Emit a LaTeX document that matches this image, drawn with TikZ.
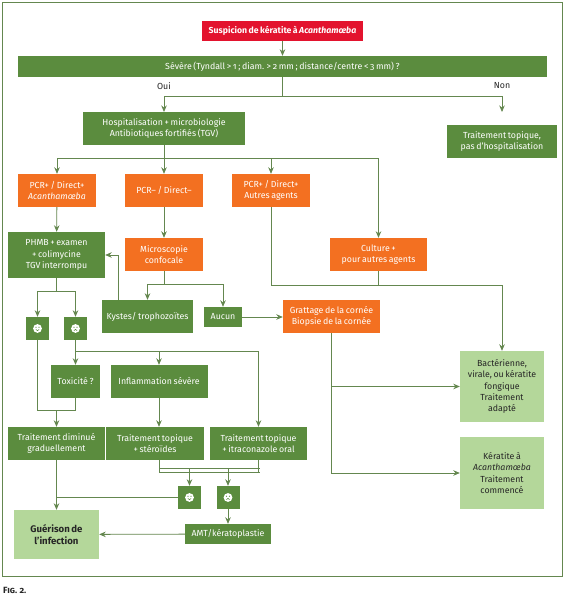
\documentclass[tikz,border=0pt]{standalone}
\usepackage{fontspec}
\setmainfont[Numbers=OldStyle, WordSpace=0.72]{Fira Sans}
\usetikzlibrary{arrows.meta}

\definecolor{darkgreen}{HTML}{5B8C3E}
\definecolor{linegreen}{HTML}{64874F}
\definecolor{softgreen}{HTML}{B4D79A}
\definecolor{carrot}{HTML}{F37021}
\definecolor{alarm}{HTML}{E3132E}

\tikzset{
  box/.style={inner sep=0pt, align=center, text=white,
    font=\fontsize{8.8}{11.2}\selectfont},
  greenbox/.style={box, fill=darkgreen},
  orangebox/.style={box, fill=carrot},
  softbox/.style={box, fill=softgreen, text=black!85},
  facebox/.style={fill=darkgreen, inner sep=0pt, minimum width=23pt, minimum height=23pt},
  size/.style 2 args={minimum width=#1pt, minimum height=#2pt},
  link/.style={draw=linegreen, line width=0.8pt},
  arrow/.style={link, -{Stealth[length=6.5pt,width=5.5pt]}}
}

\begin{document}
\begin{tikzpicture}[x=1pt, y=-1pt]
  \useasboundingbox (0,0) rectangle (568,599);
  \fill[white] (0,0) rectangle (568,599);
  \node[draw=linegreen, line width=0.8pt, inner sep=0pt, size={559.5}{573.5}] (frame) at (282.25,289.25) {};

  % Top of the tree
  \node[box, fill=alarm, size={161}{20}, font=\fontsize{8.7}{11.2}\bfseries] (suspicion) at (282.5,31) {Suspicion de kératite à \textit{Acanthamœba}};
  \node[greenbox, size={529}{21}] (severe) at (282.5,66.5) {Sévère (Tyndall > 1 ; diam. > 2 mm ; distance/centre < 3 mm) ?};
  \node[box, text=black!85] (oui) at (164,86) {Oui};
  \node[box, text=black!85] (non) at (502,86) {Non};
  \node[greenbox, size={162}{33}] (hosp) at (164,128.5) {Hospitalisation + microbiologie\\Antibiotiques fortifiés (TGV)};
  \node[greenbox, size={110}{33}] (topical) at (502,141.5) {Traitement topique,\\pas d’hospitalisation};

  % Results
  \node[orangebox, size={78}{33}] (pcrA) at (57,190.5) {PCR+ / Direct+\\\textit{Acanthamœba}};
  \node[orangebox, size={78}{33}] (pcrB) at (164,190.5) {PCR– / Direct–};
  \node[orangebox, size={78}{33}] (pcrC) at (271,190.5) {PCR+ / Direct+\\Autres agents};
  \node[greenbox, size={97}{46}] (phmb) at (56.5,255) {PHMB + examen\\+ colimycine\\TGV interrompu};
  \node[orangebox, size={78}{33}] (micro) at (164,254.5) {Microscopie\\confocale};
  \node[orangebox, size={97}{33}] (culture) at (378.5,254.5) {Culture +\\pour autres agents};
  \node[greenbox, size={91}{33}] (kystes) at (147.5,316.5) {Kystes/ trophozoïtes};
  \node[greenbox, size={38}{20}] (aucun) at (223,317) {Aucun};
  \node[orangebox, size={97}{33}] (grattage) at (331.5,316.5) {Grattage de la cornée\\Biopsie de la cornée};

  % Treatment
  \node[facebox] (plusA) at (37.5,328.5) {};
  \node[facebox] (minusA) at (75.5,328.5) {};
  \node[greenbox, size={49}{33}] (toxic) at (75.5,381.5) {Toxicité ?};
  \node[greenbox, size={97}{33}] (inflam) at (159,381.5) {Inflammation sévère};
  \node[greenbox, size={97}{33}] (taper) at (56.5,443.5) {Traitement diminué\\graduellement};
  \node[greenbox, size={98}{33}] (steroid) at (155,443.5) {Traitement topique\\+ stéroïdes};
  \node[greenbox, size={97}{33}] (itra) at (258.5,443.5) {Traitement topique\\+ itraconazole oral};
  \node[facebox] (plusB) at (189.5,497.5) {};
  \node[facebox] (minusB) at (228,497.5) {};
  \node[greenbox, size={86}{20}] (amt) at (228,534) {AMT/kératoplastie};
  \node[softbox, size={85}{49}, font=\fontsize{9.6}{12.4}\bfseries] (cure) at (56.5,534.5) {Guérison de\\l’infection};
  \node[softbox, size={84}{71}] (bact) at (502,386.5) {Bactérienne,\\virale, ou kératite\\fongique\\Traitement\\adapté};
  \node[softbox, size={84}{72}] (kerat) at (502,473) {Kératite à\\\textit{Acanthamœba}\\Traitement\\commencé};
  \node[box, text=black!85, font=\fontsize{9}{9}\bfseries, anchor=west] (fig) at (3,590) {\textsc{Fig. 2.}};

  % Faces
  \foreach \f/\m/\b in {plusA/0.9/1.8, plusB/0.9/1.8, minusA/2.2/-1.8, minusB/2.2/-1.8} {
    \fill[white] (\f) circle (4.4pt);
    \fill[darkgreen] (\f) ++(-1.5,-1.3) circle (0.55pt) ++(3,0) circle (0.55pt);
    \draw[darkgreen, line width=0.5pt] (\f) ++(-1.6,\m) .. controls +(1.6,\b) .. ++(3.2,0);
  }

  % Junctions
  \coordinate (forkTop) at (282.5,96);
  \coordinate (ouiEnd) at (164,112);
  \coordinate (nonEnd) at (502,112);
  \coordinate (forkHosp) at (164,158);
  \coordinate (forkMicro) at (164,284.5);
  \coordinate (forkCulture) at (378.5,285.5);
  \coordinate (kystesUp) at (118.5,300);
  \coordinate (forkPhmb) at (56.5,291.5);
  \coordinate (forkMinus) at (75.5,351.5);
  \coordinate (forkTaper) at (56.5,410);
  \coordinate (forkUpper) at (159,468.3);
  \coordinate (forkLower) at (159,472.5);
  \coordinate (forkRight) at (259.5,468.3);
  \coordinate (forkCure) at (56.5,497.5);

  \draw[arrow] (suspicion) -- (severe);
  \draw[link] (severe) -- (forkTop);
  \draw[arrow] (forkTop) -| (ouiEnd);
  \draw[arrow] (forkTop) -| (nonEnd);

  \draw[arrow] (hosp) -- (pcrB);
  \draw[arrow] (forkHosp) -| (pcrA);
  \draw[arrow] (forkHosp) -| (pcrC);
  \draw[arrow] (forkHosp) -| (culture);

  \draw[arrow] (pcrA) -- (phmb);
  \draw[arrow] (pcrB) -- (micro);
  \draw[link] (micro) -- (forkMicro);
  \draw[arrow] (forkMicro) -| (kystes);
  \draw[arrow] (forkMicro) -| (aucun);
  \draw[arrow] (kystesUp) |- (phmb.east);
  \draw[arrow] (aucun) -- (aucun -| grattage.west);

  \draw[link] (culture) -- (forkCulture);
  \draw[link] (pcrC) |- (forkCulture);
  \draw[arrow] (forkCulture) -| (bact);
  \draw[arrow] (grattage) |- (bact);
  \draw[arrow] (grattage) |- (kerat);

  \draw[link] (phmb) -- (forkPhmb);
  \draw[arrow] (forkPhmb) -| (plusA);
  \draw[arrow] (forkPhmb) -| (minusA);
  \draw[link] (minusA) -- (forkMinus);
  \draw[arrow] (forkMinus) -- (toxic);
  \draw[arrow] (forkMinus) -| (inflam);
  \draw[arrow] (forkMinus) -| (itra);
  \draw[link] (plusA) |- (forkTaper);
  \draw[link] (toxic) |- (forkTaper);
  \draw[arrow] (forkTaper) -- (taper);
  \draw[arrow] (inflam) -- (inflam |- steroid.north);

  \draw[link] (inflam |- steroid.south) -- (forkLower);
  \draw[link] (itra) -- (itra |- forkLower);
  \draw[link] (forkUpper) -- (forkRight);
  \draw[link] (forkLower) -- (forkLower -| forkRight);
  \draw[arrow] (plusB |- forkUpper) -- (plusB);
  \draw[arrow] (minusB |- forkUpper) -- (minusB);

  \draw[arrow] (taper) -- (cure);
  \draw[link] (plusB) -- (forkCure);
  \draw[arrow] (minusB) -- (amt);
  \draw[arrow] (amt) -- (cure);
\end{tikzpicture}
\end{document}
